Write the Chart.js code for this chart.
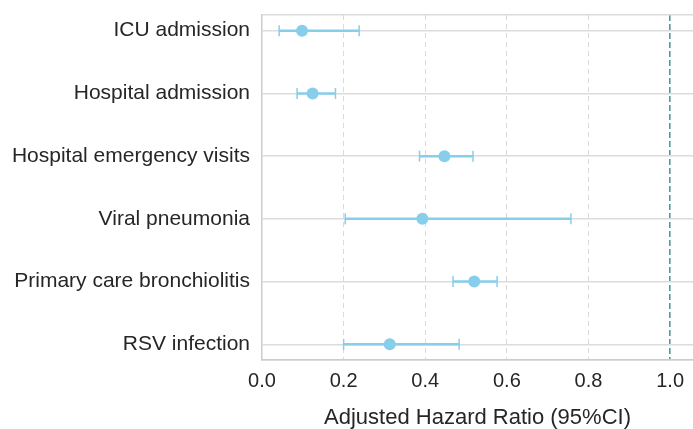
<!DOCTYPE html>
<html>
<head>
<meta charset="utf-8">
<script src="https://cdn.jsdelivr.net/npm/chart.js@4.4.1/dist/chart.umd.min.js"></script>
<style>
  html, body { margin: 0; padding: 0; background: #fff; }
  #wrap { width: 693px; height: 429px; }
</style>
</head>
<body>
<div id="wrap"><canvas id="forest"></canvas></div>
<script>
// outcomes, top to bottom
var outcomes = ['ICU admission', 'Hospital admission', 'Hospital emergency visits',
                'Viral pneumonia', 'Primary care bronchiolitis', 'RSV infection'];
var hazardRatio = [0.098, 0.124, 0.447, 0.393, 0.520, 0.313];
var ciLower = [0.042, 0.086, 0.386, 0.204, 0.468, 0.200];
var ciUpper = [0.238, 0.180, 0.517, 0.757, 0.576, 0.483];
var xTicks = [0, 0.2, 0.4, 0.6, 0.8, 1.0];

var dotColor = '#87ceeb';
var textColor = '#262626';
var fontFamily = '"Liberation Sans", Arial, sans-serif';

// one small line dataset per outcome for the CI whisker (caps = rotated line points)
var ciSets = outcomes.map(function (name, i) {
    return {
        type: 'line',
        label: name + ' CI',
        data: [{ x: ciLower[i], y: i }, { x: ciUpper[i], y: i }],
        borderColor: dotColor,
        borderWidth: 2.5,
        pointStyle: 'line',
        rotation: 90,
        pointRadius: 5.5,
        pointBorderColor: dotColor,
        pointBorderWidth: 1.5,
        showLine: true,
        fill: false
    };
});

var pointSet = {
    type: 'scatter',
    label: 'HR',
    data: hazardRatio.map(function (v, i) { return { x: v, y: i }; }),
    backgroundColor: dotColor,
    borderWidth: 0,
    pointRadius: 6
};

var ctx = document.getElementById('forest').getContext('2d');
var chart = new Chart(ctx, {
    type: 'scatter',
    data: { datasets: [pointSet].concat(ciSets) },
    options: {
        responsive: true,
        maintainAspectRatio: false,
        animation: false,
        events: [],
        layout: { autoPadding: false, padding: { top: 15, right: 0, left: 0, bottom: 0 } },
        plugins: {
            legend: { display: false },
            tooltip: { enabled: false }
        },
        scales: {
            x: {
                type: 'linear',
                min: 0,
                max: 1.056,
                afterBuildTicks: function (scale) {
                    scale.ticks = xTicks.map(function (v) { return { value: v }; });
                },
                afterFit: function (scale) {
                    scale.height = 69;
                    scale.paddingLeft = 0;
                    scale.paddingRight = 0;
                },
                ticks: {
                    padding: 9,
                    color: textColor,
                    font: { family: fontFamily, size: 20 },
                    callback: function (v) { return v.toFixed(1); }
                },
                grid: {
                    drawTicks: false,
                    color: function (c) {
                        if (c.tick && c.tick.value === 0) return 'rgba(0,0,0,0)';
                        if (c.tick && c.tick.value === 1) return '#4f9a9e';
                        return '#dadada';
                    },
                    lineWidth: function (c) {
                        return (c.tick && c.tick.value === 1) ? 1.6 : 1;
                    }
                },
                border: {
                    color: '#cccccc',
                    width: 1.5,
                    dash: function (c) {
                        return (c.tick && c.tick.value === 1) ? [6, 3] : [5, 4];
                    }
                },
                title: {
                    display: true,
                    text: 'Adjusted Hazard Ratio (95%CI)',
                    color: textColor,
                    font: { family: fontFamily, size: 22, lineHeight: 1.0 },
                    padding: { top: 14, bottom: 0 }
                }
            },
            y: {
                type: 'linear',
                reverse: true,
                min: -0.25,
                max: 5.25,
                afterBuildTicks: function (scale) {
                    var t = [-0.25];
                    outcomes.forEach(function (o, i) { t.push(i); });
                    t.push(5.25);
                    scale.ticks = t.map(function (v) { return { value: v }; });
                },
                afterFit: function (scale) {
                    scale.width = 262;
                    scale.paddingTop = 0;
                    scale.paddingBottom = 0;
                },
                ticks: {
                    padding: 12,
                    color: textColor,
                    font: { family: fontFamily, size: 21 },
                    callback: function (v) {
                        return Number.isInteger(v) ? outcomes[v] : '';
                    }
                },
                grid: {
                    drawTicks: false,
                    color: '#dcdcdc',
                    lineWidth: 1.5
                },
                border: { color: '#cccccc', width: 1.5 }
            }
        }
    }
});
</script>
</body>
</html>
